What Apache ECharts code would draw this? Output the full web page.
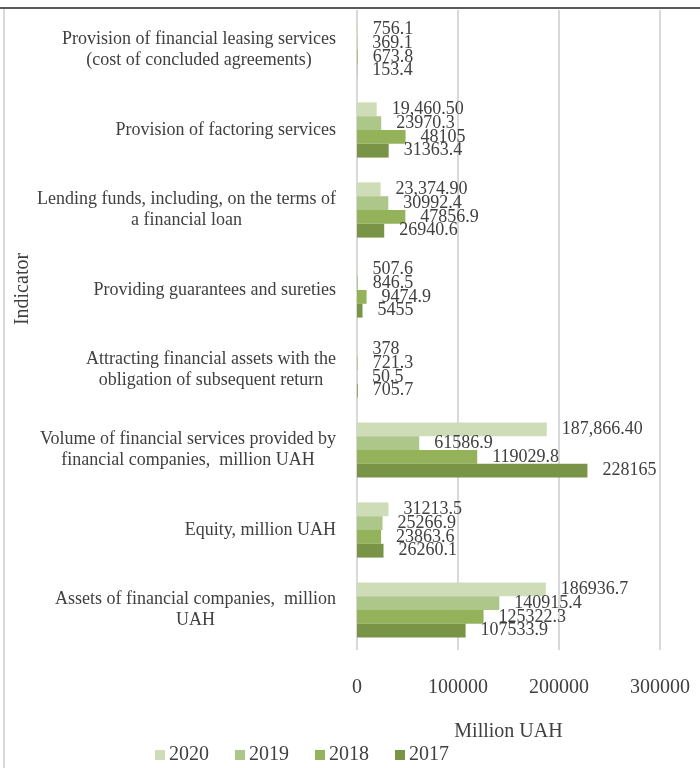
<!DOCTYPE html>
<html>
<head>
<meta charset="utf-8">
<script src="https://cdn.jsdelivr.net/npm/echarts@6/dist/echarts.min.js"></script>
<style>html,body{margin:0;padding:0;background:#fff}#c{width:700px;height:768px}</style>
</head>
<body>
<div id="c"></div>
<script>
const categories = [
  "Provision of financial leasing services\n(cost of concluded agreements)",
  "Provision of factoring services",
  "Lending funds, including, on the terms of\na financial loan",
  "Providing guarantees and sureties",
  "Attracting financial assets with the\nobligation of subsequent return",
  "Volume of financial services provided by\nfinancial companies,  million UAH",
  "Equity, million UAH",
  "Assets of financial companies,  million\nUAH"
];
const seriesNames = ["2020", "2019", "2018", "2017"];
const v2020 = [756.1, 19460.50, 23374.90, 507.6, 378, 187866.40, 31213.5, 186936.7];
const v2019 = [369.1, 23970.3, 30992.4, 846.5, 721.3, 61586.9, 25266.9, 140915.4];
const v2018 = [673.8, 48105, 47856.9, 9474.9, 50.5, 119029.8, 23863.6, 125322.3];
const v2017 = [153.4, 31363.4, 26940.6, 5455, 705.7, 228165, 26260.1, 107533.9];
const labels2020 = ["756.1", "19,460.50", "23,374.90", "507.6", "378", "187,866.40", "31213.5", "186936.7"];
const labels2019 = ["369.1", "23970.3", "30992.4", "846.5", "721.3", "61586.9", "25266.9", "140915.4"];
const labels2018 = ["673.8", "48105", "47856.9", "9474.9", "50.5", "119029.8", "23863.6", "125322.3"];
const labels2017 = ["153.4", "31363.4", "26940.6", "5455", "705.7", "228165", "26260.1", "107533.9"];
const xTicks = [0, 100000, 200000, 300000];

const values = [v2020, v2019, v2018, v2017];
const labelTexts = [labels2020, labels2019, labels2018, labels2017];
const colors = ["#cfdcb8", "#adc78a", "#93b25a", "#7a9447"];
const FONT = "'Liberation Serif', 'Times New Roman', serif";
const TXT = "#404040";

const chart = echarts.init(document.getElementById('c'), null, {renderer: 'canvas'});
chart.setOption({
  animation: false,
  backgroundColor: '#fff',
  textStyle: {fontFamily: FONT},
  grid: {left: 357, right: 40, top: 10, bottom: 118, containLabel: false},
  legend: {
    data: seriesNames,
    left: 150, top: 740,
    icon: 'rect', itemWidth: 10, itemHeight: 10, itemGap: 26,
    textStyle: {fontFamily: FONT, fontSize: 20, color: TXT, padding: [0, 0, 0, -1]}
  },
  xAxis: {
    type: 'value',
    min: xTicks[0], max: xTicks[xTicks.length - 1], interval: xTicks[1] - xTicks[0],
    name: 'Million UAH', nameLocation: 'middle', nameGap: 72,
    nameTextStyle: {fontFamily: FONT, fontSize: 20, color: TXT},
    axisLine: {show: false}, axisTick: {show: false},
    axisLabel: {fontFamily: FONT, fontSize: 20, color: TXT, margin: 28, formatter: v => String(v)},
    splitLine: {show: true, lineStyle: {color: '#d9d9d9', width: 2}}
  },
  yAxis: {
    type: 'category', inverse: true, data: categories,
    axisLine: {show: false}, axisTick: {show: false},
    axisLabel: {
      margin: 21, align: 'right',
      formatter: function (s) { return s.split('\n').map(l => '{a|' + l + '}').join('\n'); },
      rich: {a: {fontFamily: FONT, fontSize: 18, color: TXT, align: 'center', lineHeight: 21}}
    }
  },
  graphic: [
    {type: 'rect', shape: {x: 0, y: 7, width: 700, height: 2}, style: {fill: '#5a5a5a'}, silent: true},
    {type: 'rect', shape: {x: 3, y: 9, width: 2, height: 759}, style: {fill: '#d9d9d9'}, silent: true},
    {type: 'text', x: 13, y: 289, rotation: Math.PI / 2, style: {text: 'Indicator', font: '20px ' + FONT, fill: TXT, align: 'center', verticalAlign: 'top'}, silent: true}
  ],
  series: seriesNames.map((n, i) => ({
    name: n, type: 'bar',
    data: values[i],
    barGap: '0%', barCategoryGap: '31%',
    itemStyle: {color: colors[i]},
    label: {
      show: true, position: 'right', distance: 15,
      fontFamily: FONT, fontSize: 18, color: TXT,
      formatter: p => labelTexts[i][p.dataIndex]
    }
  }))
});
</script>
</body>
</html>
